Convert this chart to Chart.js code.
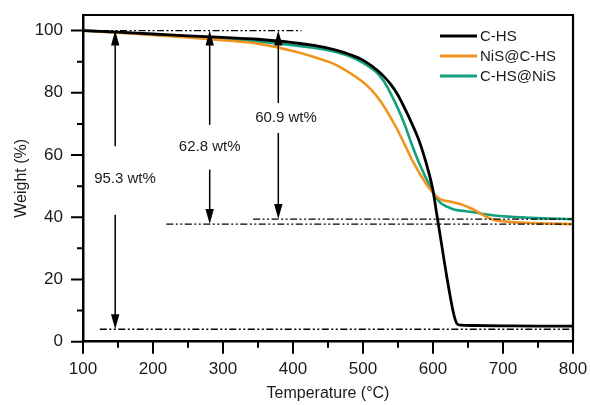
<!DOCTYPE html>
<html><head><meta charset="utf-8">
<script src="https://cdn.jsdelivr.net/npm/chart.js@4"></script>
<style>html,body{margin:0;padding:0;background:#fff}</style>
</head><body>
<canvas id="c" width="590" height="405"></canvas>
<script>
// ---- data ----
const seriesNames = ['C-HS', 'NiS@C-HS', 'C-HS@NiS'];
const seriesColors = ['#000000', '#F0941F', '#14A07F'];

const tempCHS   = [100,150,200,250,300,350,400,430,460,480,500,520,530,540,550,560,570,580,590,600,605,610,620,630,635,640,660,700,750,800];
const weightCHS = [100,99.5,98.9,98.3,97.8,97.2,96.1,95.2,93.8,92.4,90.5,87.3,85.2,82.6,79.2,74.8,70.0,64.7,57.6,48.6,41.5,34.5,20.5,8.5,5.6,5.3,5.2,5.1,5.0,5.0];

const tempNiSCHS   = [100,150,200,250,300,350,400,430,455,474,498,512,524,536,548,560,572,586,598,610,625,640,655,670,686,705,724,760,800];
const weightNiSCHS = [100,99.3,98.6,97.8,96.9,95.8,93.4,91.5,89.6,87.4,83.8,80.9,77.6,73.4,68.6,63.2,57.6,52.2,48.4,45.8,45.0,44.2,42.8,40.9,39.2,38.6,38.3,38.0,37.8];

const tempCHSNiS   = [100,150,200,250,300,350,400,450,480,500,520,530,540,550,560,570,580,590,600,610,620,630,645,660,680,700,740,800];
const weightCHSNiS = [100,99.4,98.7,98.1,97.3,96.5,95.3,93.7,91.8,89.6,86.4,83.6,79.6,74.9,69.5,63.2,57.5,52.6,48.0,44.8,43.4,42.5,42.0,41.5,40.8,40.3,39.8,39.4];

// tick values
const xMajorTicks = [100,200,300,400,500,600,700,800];
const xMinorTicks = [150,250,350,450,550,650,750];
const yMajorTicks = [0,20,40,60,80,100];
const yMinorTicks = [10,30,50,70,90];

// reference (dash-dot-dot) levels: weight, start temp, end temp
const refLevels = [100, 39.4, 37.8, 4.0];
const refStart  = [100, 343, 219, 124];
const refEnd    = [412, 800, 800, 800];

// weight-loss arrows
const arrowTemps    = [146, 281, 379];
const arrowLabels   = ['95.3 wt%', '62.8 wt%', '60.9 wt%'];
const arrowLabelT   = [160, 281, 390];
const arrowLabelW   = [52.2, 62.7, 72.0];
const arrowUpFrom   = [62.8, 69.7, 76.7];
const arrowUpTo     = [100, 100, 100];
const arrowDownFrom = [40.8, 55.3, 67.1];
const arrowDownTo   = [4.0, 37.8, 39.4];

const FONT = "'Liberation Sans', Arial, sans-serif";
const TXT = '#1a1a1a';

function pts(t, w) { return t.map((v, i) => ({x: v, y: w[i]})); }
const seriesData = [pts(tempCHS, weightCHS), pts(tempNiSCHS, weightNiSCHS), pts(tempCHSNiS, weightCHSNiS)];

const extras = {
  id: 'extras',
  afterDatasetsDraw(chart) {
    const {ctx, chartArea: a, scales: {x, y}} = chart;
    ctx.save();
    // frame top & right
    ctx.strokeStyle = '#000';
    ctx.lineWidth = 2.2;
    ctx.beginPath();
    ctx.moveTo(a.left, a.top); ctx.lineTo(a.right, a.top); ctx.lineTo(a.right, a.bottom);
    ctx.stroke();
    // tick marks (major 12px, minor 6px, outward)
    ctx.lineWidth = 2;
    ctx.beginPath();
    xMajorTicks.forEach(v => { const px = x.getPixelForValue(v); ctx.moveTo(px, a.bottom); ctx.lineTo(px, a.bottom + 12); });
    xMinorTicks.forEach(v => { const px = x.getPixelForValue(v); ctx.moveTo(px, a.bottom); ctx.lineTo(px, a.bottom + 6); });
    yMajorTicks.forEach(v => { const py = y.getPixelForValue(v); ctx.moveTo(a.left, py); ctx.lineTo(a.left - 12, py); });
    yMinorTicks.forEach(v => { const py = y.getPixelForValue(v); ctx.moveTo(a.left, py); ctx.lineTo(a.left - 6, py); });
    ctx.stroke();
    // reference lines
    ctx.lineWidth = 1.3;
    ctx.setLineDash([7, 2.5, 2, 2.5, 2, 2.5]);
    refLevels.forEach((w, i) => {
      const py = y.getPixelForValue(w);
      ctx.beginPath();
      ctx.moveTo(x.getPixelForValue(refStart[i]), py);
      ctx.lineTo(x.getPixelForValue(refEnd[i]), py);
      ctx.stroke();
    });
    ctx.setLineDash([]);
    // arrows
    function arrow(px, y0, y1) {
      const dir = y1 > y0 ? 1 : -1;
      ctx.lineWidth = 1.5;
      ctx.beginPath(); ctx.moveTo(px, y0); ctx.lineTo(px, y1 - dir * 10); ctx.stroke();
      ctx.beginPath();
      ctx.moveTo(px, y1); ctx.lineTo(px - 4.2, y1 - dir * 15); ctx.lineTo(px + 4.2, y1 - dir * 15); ctx.closePath();
      ctx.fill();
    }
    ctx.fillStyle = '#000';
    arrowTemps.forEach((t, i) => {
      const px = x.getPixelForValue(t);
      arrow(px, y.getPixelForValue(arrowUpFrom[i]), y.getPixelForValue(arrowUpTo[i]));
      arrow(px, y.getPixelForValue(arrowDownFrom[i]), y.getPixelForValue(arrowDownTo[i]));
    });
    ctx.fillStyle = TXT;
    ctx.font = '15px ' + FONT;
    ctx.textAlign = 'center';
    ctx.textBaseline = 'middle';
    arrowLabels.forEach((s, i) => ctx.fillText(s, x.getPixelForValue(arrowLabelT[i]), y.getPixelForValue(arrowLabelW[i])));
    // legend
    ctx.textAlign = 'left';
    chart.data.datasets.forEach((ds, i) => {
      const ly = 36 + i * 20;
      ctx.strokeStyle = ds.borderColor;
      ctx.lineWidth = 3;
      ctx.beginPath(); ctx.moveTo(440, ly); ctx.lineTo(477, ly); ctx.stroke();
      ctx.fillStyle = TXT;
      ctx.fillText(ds.label, 480, ly + 1);
    });
    ctx.restore();
  }
};

new Chart(document.getElementById('c'), {
  type: 'line',
  data: {
    datasets: seriesNames.map((n, i) => ({
      label: n,
      data: seriesData[i],
      borderColor: seriesColors[i],
      backgroundColor: seriesColors[i],
      borderWidth: i === 0 ? 2.8 : 2.6,
      pointRadius: 0,
      cubicInterpolationMode: 'monotone',
      fill: false
    }))
  },
  options: {
    responsive: false,
    animation: false,
    devicePixelRatio: 1,
    layout: {padding: {top: 15, right: 17, left: 0, bottom: 0}},
    plugins: {legend: {display: false}, tooltip: {enabled: false}},
    scales: {
      x: {
        type: 'linear', min: 100, max: 800,
        afterBuildTicks: s => { s.ticks = xMajorTicks.map(v => ({value: v})); },
        afterFit: s => { s.height = 63.3; },
        ticks: {
          autoSkip: false, maxRotation: 0, padding: 0,
          color: TXT, font: {family: FONT, size: 17},
          callback: v => String(v)
        },
        grid: {drawOnChartArea: false, drawTicks: true, tickLength: 17, tickColor: 'rgba(0,0,0,0)'},
        border: {display: true, color: '#000', width: 2.5},
        title: {display: true, text: 'Temperature (°C)', color: TXT, font: {family: FONT, size: 16}, padding: {top: 0, bottom: 2}}
      },
      y: {
        type: 'linear', min: 0, max: 105,
        afterBuildTicks: s => { s.ticks = yMajorTicks.map(v => ({value: v})); },
        afterFit: s => { s.width = 83; },
        ticks: {
          autoSkip: false, padding: 0,
          color: TXT, font: {family: FONT, size: 17},
          callback: v => String(v)
        },
        grid: {drawOnChartArea: false, drawTicks: true, tickLength: 20, tickColor: 'rgba(0,0,0,0)'},
        border: {display: true, color: '#000', width: 2.5},
        title: {display: true, text: 'Weight (%)', color: TXT, font: {family: FONT, size: 16}, padding: {top: 12, bottom: 0}}
      }
    }
  },
  plugins: [extras]
});
</script>
</body></html>
